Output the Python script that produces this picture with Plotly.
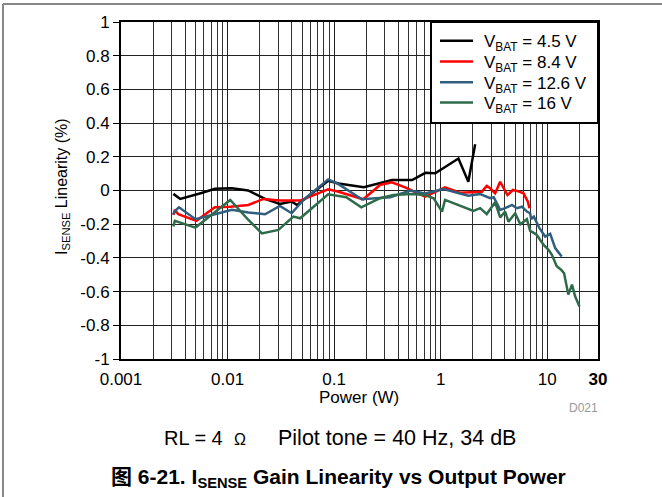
import plotly.graph_objects as go

# ---------------- data ----------------
p_45 = [0.0031, 0.0036, 0.0057, 0.0076, 0.011, 0.0156, 0.0225, 0.031, 0.040, 0.045,
        0.088, 0.11, 0.19, 0.27, 0.35, 0.54, 0.72, 0.89, 1.47, 1.82, 2.11]
v_45 = [-0.02, -0.05, -0.015, 0.01, 0.013, 0.0, -0.05, -0.08, -0.066, -0.086,
        0.058, 0.042, 0.019, 0.046, 0.062, 0.062, 0.105, 0.102, 0.19, 0.052, 0.275]

p_84 = [0.0031, 0.0032, 0.00345, 0.0051, 0.0076, 0.0106, 0.0157, 0.0217, 0.031, 0.048,
        0.088, 0.11, 0.188, 0.27, 0.348, 0.464, 0.715, 1.10, 1.52, 2.44, 2.71, 2.92,
        3.25, 3.62, 4.24, 4.77, 5.38, 6.0, 6.59, 6.82]
v_84 = [-0.145, -0.115, -0.141, -0.18, -0.10, -0.096, -0.086, -0.05, -0.06, -0.06,
        0.007, -0.007, -0.052, 0.033, 0.049, 0.019, -0.037, 0.019, -0.013, -0.007, 0.027, 0.013,
        -0.017, 0.052, -0.027, 0.003, -0.005, -0.017, -0.066, -0.105]

p_126 = [0.0031, 0.0033, 0.0035, 0.0050, 0.0076, 0.011, 0.0157, 0.0225, 0.031, 0.040,
         0.0515, 0.088, 0.11, 0.182, 0.336, 0.52, 0.715, 1.06, 1.82, 2.35, 2.92, 3.15,
         3.37, 3.62, 4.03, 4.67, 5.2, 5.8, 6.45, 6.92, 7.08, 7.5, 8.47, 9.58, 10.67, 11.9, 13.7]
v_126 = [-0.141, -0.115, -0.10, -0.17, -0.141, -0.115, -0.13, -0.141, -0.092, -0.135,
         -0.056, 0.066, 0.038, -0.052, -0.04, 0.0, -0.017, 0.009, -0.031, -0.021, -0.046, -0.04,
         -0.076, -0.115, -0.105, -0.086, -0.105, -0.096, -0.125, -0.135, -0.17, -0.155, -0.224, -0.273, -0.257, -0.342, -0.392]

p_16 = [0.0031, 0.0032, 0.0050, 0.0106, 0.0157, 0.021, 0.030, 0.0415, 0.048, 0.088,
        0.13, 0.18, 0.27, 0.36, 0.54, 0.72, 0.86, 1.03, 1.10, 1.52, 2.03, 2.35, 2.71,
        3.25, 3.62, 4.03, 4.33, 5.01, 5.6, 6.45, 6.92, 7.9, 9.23, 10.3, 11.07, 12.3, 13.5,
        14.4, 15.8, 17.1, 18.3, 20.1]
v_16 = [-0.214, -0.18, -0.22, -0.056, -0.175, -0.255, -0.234, -0.155, -0.165, -0.022,
        -0.04, -0.10, -0.046, -0.027, -0.021, -0.027, -0.046, -0.125, -0.056, -0.092, -0.121, -0.105, -0.14,
        -0.07, -0.16, -0.125, -0.185, -0.135, -0.20, -0.17, -0.24, -0.26, -0.322, -0.352, -0.382, -0.45, -0.47,
        -0.49, -0.618, -0.559, -0.628, -0.688]

series_names = ["V<sub>BAT</sub> = 4.5 V", "V<sub>BAT</sub> = 8.4 V",
                "V<sub>BAT</sub> = 12.6 V", "V<sub>BAT</sub> = 16 V"]
series_colors = ["#000000", "#FF0000", "#2F5E7E", "#2E6B4B"]

x_tickvals = [0.001, 0.01, 0.1, 1, 10, 30]
x_ticktext = ["0.001", "0.01", "0.1", "1", "10", "<b>30</b>"]
x_minor = [m * d for d in [0.001, 0.01, 0.1, 1] for m in range(2, 10)] + [20]
y_tickvals = [1, 0.8, 0.6, 0.4, 0.2, 0, -0.2, -0.4, -0.6, -0.8, -1]
y_ticktext = ["1", "0.8", "0.6", "0.4", "0.2", "0", "-0.2", "-0.4", "-0.6", "-0.8", "-1"]

FONT = "Liberation Sans, Arial, Noto Sans CJK SC, sans-serif"

W, H = 662, 497
L, R, T, B = 121, 64, 22, 138
pw, ph = W - L - R, H - T - B


def px(xp):
    return (xp - L) / pw


def py(yp):
    return (H - B - yp) / ph


fig = go.Figure()
for p, v, n, c in zip([p_45, p_84, p_126, p_16], [v_45, v_84, v_126, v_16],
                      series_names, series_colors):
    fig.add_trace(go.Scatter(x=p, y=v, mode="lines", name=n, showlegend=False,
                             line=dict(color=c, width=2.5)))

shapes = [
    dict(type="line", xref="paper", yref="paper", x0=px(3), x1=px(W + 5),
         y0=py(4), y1=py(4), line=dict(color="#888", width=2)),
    dict(type="line", xref="paper", yref="paper", x0=px(3), x1=px(3),
         y0=py(4), y1=py(H + 5), line=dict(color="#888", width=2)),
    # legend box
    dict(type="rect", xref="paper", yref="paper", x0=px(431), x1=px(598),
         y0=py(123), y1=py(22), fillcolor="white", line=dict(color="black", width=2),
         layer="above"),
]
annotations = []
leg_y = [40.7, 61.5, 82.3, 102.5]
for yy, n, c in zip(leg_y, series_names, series_colors):
    shapes.append(dict(type="line", xref="paper", yref="paper", x0=px(440), x1=px(473),
                       y0=py(yy), y1=py(yy), line=dict(color=c, width=2.5), layer="above"))
    annotations.append(dict(text=n, xref="paper", yref="paper", x=px(482), y=py(yy + 2.5),
                            xanchor="left", yanchor="middle", showarrow=False,
                            font=dict(size=17)))

annotations += [
    dict(text="Power (W)", xref="paper", yref="paper", x=px(359), y=py(398),
         xanchor="center", yanchor="middle", showarrow=False, font=dict(size=17)),
    dict(text="I<sub>SENSE</sub> Linearity (%)", xref="paper", yref="paper",
         x=px(62), y=py(187), xanchor="center", yanchor="middle",
         textangle=-90, showarrow=False, font=dict(size=16)),
    dict(text="D021", xref="paper", yref="paper", x=px(583), y=py(408),
         xanchor="center", yanchor="middle",
         showarrow=False, font=dict(size=12, color="#999")),
    dict(text="RL = 4", xref="paper", yref="paper", x=px(162), y=py(438),
         xanchor="left", yanchor="middle", showarrow=False, font=dict(size=20)),
    dict(text="\u03a9", xref="paper", yref="paper", x=px(240), y=py(439),
         xanchor="center", yanchor="middle", showarrow=False, font=dict(size=16)),
    dict(text="Pilot tone = 40 Hz, 34 dB", xref="paper", yref="paper", x=px(276), y=py(438),
         xanchor="left", yanchor="middle", showarrow=False, font=dict(size=21.5)),
    dict(text="<b>图 6-21. I<sub>SENSE</sub> Gain Linearity vs Output Power</b>",
         xref="paper", yref="paper", x=px(338), y=py(478),
         xanchor="center", yanchor="middle", showarrow=False, font=dict(size=21)),
]

fig.update_layout(
    width=W, height=H,
    margin=dict(l=L, r=R, t=T, b=B),
    paper_bgcolor="white", plot_bgcolor="white",
    font=dict(family=FONT, size=17, color="black"),
    showlegend=False,
    xaxis=dict(type="log", range=[-3, 1.4771212547],
               tickvals=x_tickvals, ticktext=x_ticktext,
               showgrid=True, gridcolor="#222", gridwidth=1,
               minor=dict(tickvals=x_minor, showgrid=True, gridcolor="#333", gridwidth=1),
               showline=True, linecolor="black", linewidth=2, mirror=True,
               ticks="outside", ticklen=4, tickcolor="rgba(0,0,0,0)",
               zeroline=False),
    yaxis=dict(range=[-1, 1], tickvals=y_tickvals, ticktext=y_ticktext,
               showgrid=True, gridcolor="#222", gridwidth=1,
               showline=True, linecolor="black", linewidth=2, mirror=True,
               ticks="outside", ticklen=6, tickcolor="black",
               zeroline=False),
    shapes=shapes,
    annotations=annotations,
)

fig.write_html("out.html", config={"displayModeBar": False},
               post_script="document.body.style.margin='0';")
